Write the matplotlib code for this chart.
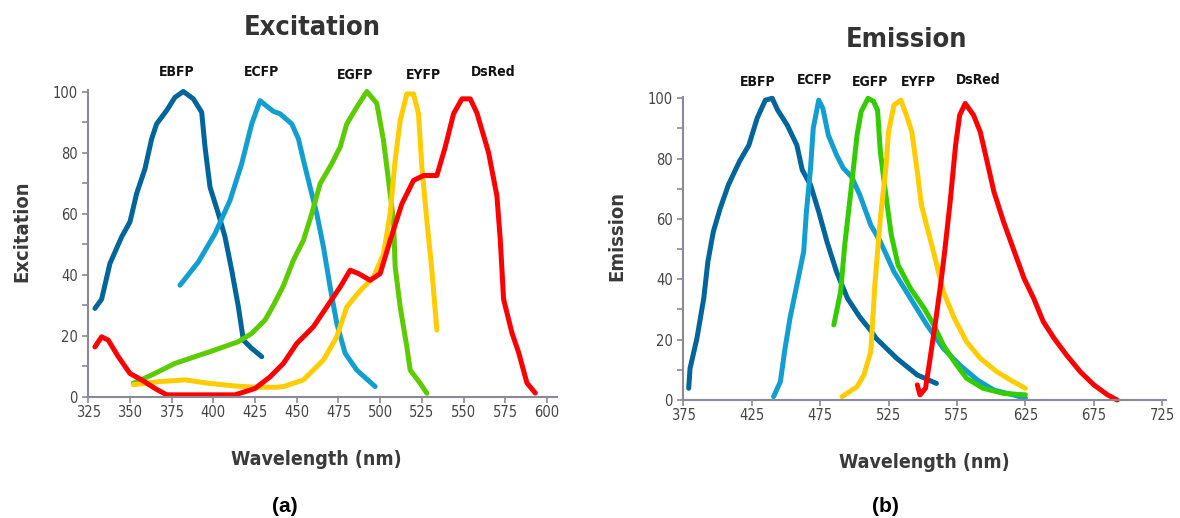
import matplotlib
matplotlib.use("Agg")
import matplotlib.pyplot as plt
from matplotlib.ticker import MultipleLocator

plt.rcParams['font.family'] = ['DejaVu Sans']
plt.rcParams['font.stretch'] = 'condensed'

nomi = ["EBFP", "ECFP", "EGFP", "EYFP", "DsRed"]
colori_ecc = ["#00659a", "#129ed0", "#5ccc00", "#ffcc00", "#ff0000"]
colori_emi = ["#00659a", "#129ed0", "#33cc00", "#ffcc00", "#ff0000"]

tick_ecc = [325, 350, 375, 400, 425, 450, 475, 500, 525, 550, 575, 600]
tick_emi = [375, 425, 475, 525, 575, 625, 675, 725]

# eccitazione (a)
ecc_ebfp_x = [329, 333, 338, 345, 350, 354, 359, 363, 366, 372, 377, 382, 388, 393, 395, 398, 403, 407, 411, 415, 418, 423, 429]
ecc_ebfp_y = [29, 32, 43.7, 52.4, 57.3, 66.6, 74.7, 84.5, 89.4, 93.8, 98.1, 100, 97.6, 93.2, 81.8, 68.7, 60, 52.4, 41.5, 29.5, 18.6, 15.9, 13.2]

ecc_ecfp_x = [380, 391, 401, 410, 417, 423, 428, 432, 436, 440, 447, 451, 454, 458, 462, 466, 470, 474, 479, 486, 497]
ecc_ecfp_y = [36.6, 44.2, 53.5, 64.4, 76.4, 89.4, 97, 95.2, 93.5, 92.7, 89.4, 84.5, 77.5, 68.7, 60, 49.1, 36, 24.1, 14.3, 8.8, 3.4]

ecc_egfp_x = [352, 363, 377, 389, 401, 415, 423, 431, 436, 442, 448, 454, 459, 464, 471, 476, 480, 486, 492, 498, 502, 505, 508, 509, 512, 516, 518, 524, 528]
ecc_egfp_y = [4.5, 7.2, 11, 13.2, 15.4, 18.1, 20.8, 25.2, 30, 36.4, 44.8, 51.3, 60, 69.8, 76.4, 81.8, 89.4, 94.9, 100, 96.1, 84, 70.9, 57.8, 42.6, 29.5, 16.4, 8.8, 4.5, 1.2]

ecc_eyfp_x = [352, 367, 383, 397, 413, 425, 437, 442, 454, 466, 474, 480, 488, 496, 502, 506, 509, 512, 516, 520, 523, 525, 528, 531, 534]
ecc_eyfp_y = [4, 5, 5.6, 4.5, 3.6, 3.2, 3.2, 3.4, 5.6, 12.1, 19.7, 29.5, 34.8, 39.2, 46.8, 60, 77.5, 90.5, 99.2, 99.2, 92.7, 75.3, 57.8, 41.5, 21.9]

ecc_dsred_x = [329, 333, 337, 343, 350, 357, 365, 372, 387, 413, 425, 434, 442, 450, 460, 468, 476, 482, 487, 494, 500, 506, 513, 520, 526, 534, 539, 544, 549, 554, 558, 565, 570, 572, 574, 579, 583, 588, 593]
ecc_dsred_y = [16.4, 19.7, 18.6, 13.2, 7.7, 5.6, 2.8, 0.7, 0.7, 0.7, 2.8, 6.6, 11, 17.5, 23, 29.5, 36, 41.5, 40.4, 38.2, 40.4, 51.3, 63.2, 70.9, 72.5, 72.5, 81.8, 92.7, 97.6, 97.6, 93, 80, 65.8, 51.6, 32, 21, 14.6, 4.6, 1.3]

# emissione (b)
emi_ebfp_x = [379, 380, 385, 390, 393, 397, 402, 408, 416, 423, 429, 435, 440, 444, 451, 458, 462, 468, 474, 480, 487, 495, 504, 512, 516, 531, 546, 560]
emi_ebfp_y = [3.9, 10.5, 20.4, 33.7, 45.8, 55.8, 63.5, 71.3, 79, 84.5, 93.4, 99.4, 100, 96.1, 91.1, 84.5, 76.2, 71.3, 62.4, 52.5, 42.5, 33.7, 27.5, 23, 20.4, 13.8, 8.3, 5.5]

emi_ecfp_x = [441, 446, 449, 453, 458, 463, 465, 468, 470, 474, 477, 481, 487, 492, 498, 504, 512, 519, 529, 541, 553, 565, 577, 590, 602, 616, 625]
emi_ecfp_y = [1.1, 6.1, 16, 27.1, 38.1, 49.2, 62.4, 76.8, 90.1, 99.4, 96.7, 87.8, 81.2, 76.8, 74, 68, 58, 52.5, 42.5, 33.7, 24.9, 17.1, 11.6, 6.6, 3.3, 1.7, 0.6]

emi_egfp_x = [485, 490, 493, 498, 502, 505, 510, 514, 517, 519, 523, 527, 532, 541, 551, 558, 565, 573, 582, 594, 609, 625]
emi_egfp_y = [24.9, 35.9, 51.4, 71.3, 87.8, 95.6, 100, 99, 96, 82.3, 68, 54.7, 44.7, 37, 30.4, 24.9, 18.2, 12.7, 7.2, 3.9, 2.2, 1.7]

emi_eyfp_x = [491, 502, 507, 512, 515, 519, 523, 525, 529, 534, 538, 542, 546, 549, 554, 559, 565, 573, 582, 592, 604, 616, 625]
emi_eyfp_y = [1.1, 4.4, 8.3, 16, 38.1, 60.2, 76.8, 88.9, 97.8, 99.4, 94.5, 88.9, 75.7, 64.6, 55.8, 47, 35.9, 27.1, 19.3, 13.8, 9.4, 6.1, 3.9]

emi_dsred_x = [546, 548, 552, 555, 559, 563, 566, 570, 574, 577, 581, 587, 592, 597, 602, 609, 616, 624, 631, 638, 646, 655, 665, 675, 685, 692]
emi_dsred_y = [5, 1.7, 3.9, 12.7, 24.9, 38.1, 49.2, 65.7, 84.5, 94.5, 98.3, 94.5, 88.9, 79, 69, 59.1, 50.3, 40.3, 33.7, 26, 20.4, 14.9, 9.4, 5, 1.7, 0]

ecc_x = [ecc_ebfp_x, ecc_ecfp_x, ecc_egfp_x, ecc_eyfp_x, ecc_dsred_x]
ecc_y = [ecc_ebfp_y, ecc_ecfp_y, ecc_egfp_y, ecc_eyfp_y, ecc_dsred_y]
emi_x = [emi_ebfp_x, emi_ecfp_x, emi_egfp_x, emi_eyfp_x, emi_dsred_x]
emi_y = [emi_ebfp_y, emi_ecfp_y, emi_egfp_y, emi_eyfp_y, emi_dsred_y]

# dove stanno le etichette delle proteine (nm, valore)
etich_ecc = [(378, 106.3), (429, 106.3), (485, 105.3), (526, 105.3), (568, 106.3)]
etich_emi = [(429.5, 105.4), (471, 106), (511.5, 105.4), (546.5, 105.4), (590.5, 106)]

grigio_assi = "#8a8a96"
grigio_testo = "#444444"


def prepara_assi(ax, xmin, xmax, tick_x, etichetta_y, pos_xlab, pos_ylab):
    ax.set_xlim(xmin, xmax)
    ax.set_ylim(0, 100.5)
    ax.spines['top'].set_visible(False)
    ax.spines['right'].set_visible(False)
    for s in ['left', 'bottom']:
        ax.spines[s].set_color(grigio_assi)
        ax.spines[s].set_linewidth(1.5)
    ax.set_xticks(tick_x)
    ax.yaxis.set_major_locator(MultipleLocator(20))
    ax.yaxis.set_minor_locator(MultipleLocator(10))
    ax.tick_params(axis='both', which='both', colors=grigio_assi, labelcolor=grigio_testo,
                   labelsize=10.5, length=4, width=1.2)
    ax.tick_params(axis='x', pad=2)
    ax.set_xlabel("Wavelength (nm)", fontsize=14, fontweight='bold', color="#3a3a3a", va='center')
    ax.set_ylabel(etichetta_y, fontsize=14.5, fontweight='bold', color="#3a3a3a", va='center')
    ax.xaxis.set_label_coords(pos_xlab[0], pos_xlab[1])
    ax.yaxis.set_label_coords(pos_ylab[0], pos_ylab[1])
    ax.patch.set_visible(False)


fig = plt.figure(figsize=(11.8, 5.18), dpi=100)
ax1 = fig.add_axes([0.0748, 0.2336, 0.3972, 0.5927])
ax2 = fig.add_axes([0.579, 0.2278, 0.4095, 0.5853])

for i in range(0, len(nomi)):
    ax1.plot(ecc_x[i], ecc_y[i], color=colori_ecc[i], lw=3.6, solid_capstyle='round', solid_joinstyle='round', clip_on=False)
    ax2.plot(emi_x[i], emi_y[i], color=colori_emi[i], lw=3.6, solid_capstyle='round', solid_joinstyle='round', clip_on=False)
    ax1.text(etich_ecc[i][0], etich_ecc[i][1], nomi[i], ha='center', va='center', fontsize=10,
             fontweight='bold', color="#111111")
    ax2.text(etich_emi[i][0], etich_emi[i][1], nomi[i], ha='center', va='center', fontsize=10,
             fontweight='bold', color="#111111")

prepara_assi(ax1, 325, 606, tick_ecc, "Excitation", (0.486, -0.205), (-0.1415, 0.541))
prepara_assi(ax2, 375, 728, tick_emi, "Emission", (0.498, -0.2045), (-0.137, 0.541))

fig.text(312 / 1180, 1 - 28 / 518, "Excitation", fontsize=19.5, fontweight='bold', color="#333333", ha='center', va='center')
fig.text(906 / 1180, 1 - 40 / 518, "Emission", fontsize=19.5, fontweight='bold', color="#333333", ha='center', va='center')

fig.text(285 / 1180, 1 - 506 / 518, "(a)", fontsize=15, fontweight='bold', ha='center', va='center',
         family='Liberation Sans', stretch='normal')
fig.text(885 / 1180, 1 - 506 / 518, "(b)", fontsize=15, fontweight='bold', ha='center', va='center',
         family='Liberation Sans', stretch='normal')

fig.savefig("out.png", dpi=100)
